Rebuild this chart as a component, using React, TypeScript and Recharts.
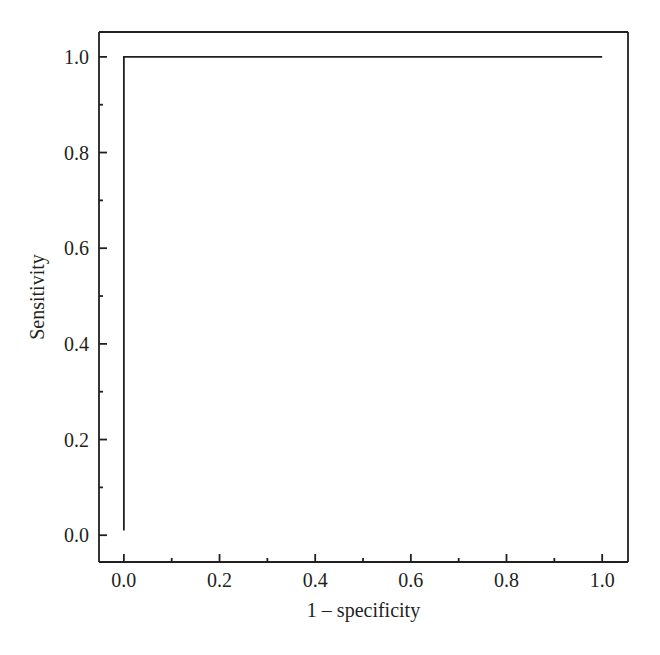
import React from 'react';
import { Line, LineChart, ReferenceLine, XAxis, YAxis } from 'recharts';

// ROC curve points (1 - specificity, sensitivity)
const fpr = [0, 0, 1];
const tpr = [0.01, 1, 1];

const xTicks = [0, 0.1, 0.2, 0.3, 0.4, 0.5, 0.6, 0.7, 0.8, 0.9, 1.0];
const yTicks = [0, 0.1, 0.2, 0.3, 0.4, 0.5, 0.6, 0.7, 0.8, 0.9, 1.0];
const majorTicks = [0, 0.2, 0.4, 0.6, 0.8, 1.0];

const xDomain: [number, number] = [-0.052, 1.054];
const yDomain: [number, number] = [-0.056, 1.052];

const INK = '#231f20';
const FONT = '"Liberation Serif", "Times New Roman", serif';
const MARGIN = 10;
const SW = 1.8;

const isMajor = (v: number) => majorTicks.some((m) => Math.abs(m - v) < 1e-6);

const BottomTick = (props: any) => {
  const { x, y, payload } = props;
  const axisY = y - MARGIN;
  const major = isMajor(payload.value);
  return (
    <g>
      <line x1={x} x2={x} y1={axisY} y2={axisY - (major ? 8 : 4)} stroke={INK} strokeWidth={SW} />
      {major && (
        <text x={x} y={axisY + 18} dy="0.35em" textAnchor="middle" fill={INK} fontSize={20} fontFamily={FONT}>
          {payload.value.toFixed(1)}
        </text>
      )}
    </g>
  );
};

const LeftTick = (props: any) => {
  const { x, y, payload } = props;
  const axisX = x + MARGIN;
  const major = isMajor(payload.value);
  return (
    <g>
      <line x1={axisX} x2={axisX + (major ? 8 : 4)} y1={y} y2={y} stroke={INK} strokeWidth={SW} />
      {major && (
        <text x={axisX - 10} y={y} dy="0.35em" textAnchor="end" fill={INK} fontSize={20} fontFamily={FONT}>
          {payload.value.toFixed(1)}
        </text>
      )}
    </g>
  );
};

const XTitle = (props: any) => {
  const { viewBox } = props;
  return (
    <text x={viewBox.x + viewBox.width / 2} y={viewBox.y + 55} textAnchor="middle" fill={INK} fontSize={20} fontFamily={FONT}>
      1 – specificity
    </text>
  );
};

const YTitle = (props: any) => {
  const { viewBox } = props;
  const cx = viewBox.x + 36;
  const cy = viewBox.y + viewBox.height / 2;
  return (
    <text x={cx} y={cy} transform={`rotate(-90 ${cx} ${cy})`} textAnchor="middle" fill={INK} fontSize={20} fontFamily={FONT}>
      Sensitivity
    </text>
  );
};

const data = fpr.map((x, i) => ({ x, y: tpr[i] }));

export default function App() {
  return (
    <div style={{ width: 640, height: 640, background: '#fff' }}>
      <LineChart width={640} height={640} data={data} margin={{ top: 24, right: 20, left: 0, bottom: 0 }}>
        <XAxis
          dataKey="x"
          type="number"
          domain={xDomain}
          ticks={xTicks}
          allowDataOverflow
          height={86}
          tickLine={false}
          tickSize={0}
          tickMargin={MARGIN}
          tick={<BottomTick />}
          axisLine={{ stroke: INK, strokeWidth: SW }}
          label={<XTitle />}
        />
        <YAxis
          type="number"
          domain={yDomain}
          ticks={yTicks}
          allowDataOverflow
          width={91}
          tickLine={false}
          tickSize={0}
          tickMargin={MARGIN}
          tick={<LeftTick />}
          axisLine={{ stroke: INK, strokeWidth: SW }}
          label={<YTitle />}
        />
        {/* closing frame: top and right edges */}
        <ReferenceLine y={yDomain[1]} stroke={INK} strokeWidth={SW} ifOverflow="visible" />
        <ReferenceLine x={xDomain[1]} stroke={INK} strokeWidth={SW} ifOverflow="visible" />
        <Line
          type="linear"
          dataKey="y"
          stroke={INK}
          strokeWidth={SW}
          dot={false}
          activeDot={false}
          isAnimationActive={false}
        />
      </LineChart>
    </div>
  );
}
